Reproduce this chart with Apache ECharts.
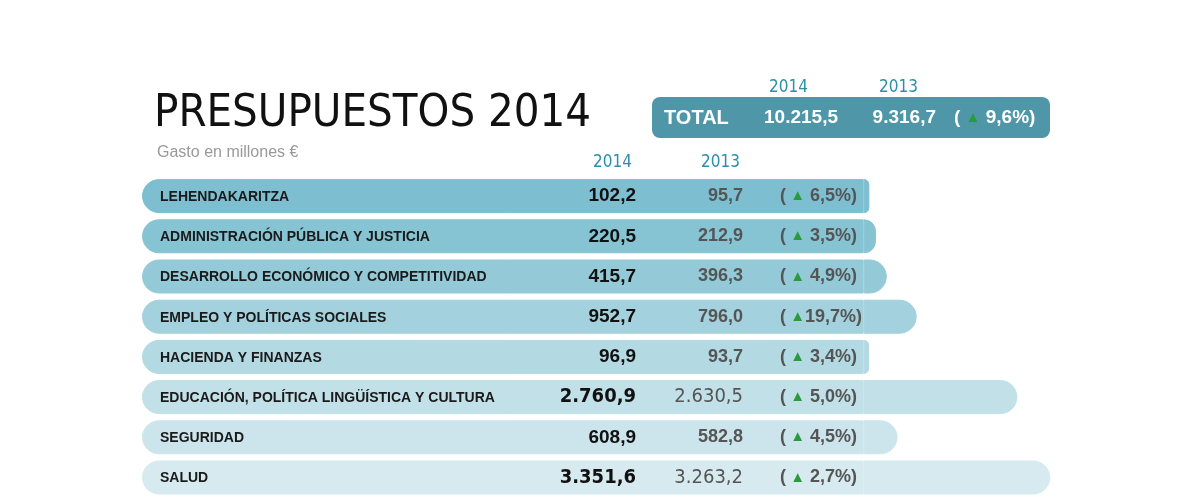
<!DOCTYPE html>
<html><head><meta charset="utf-8">
<script src="https://cdn.jsdelivr.net/npm/echarts@6/dist/echarts.min.js"></script>
<style>html,body{margin:0;background:#fff}#c{width:1200px;height:500px}</style>
</head><body><div id="c"></div>
<script>
var categories = ['LEHENDAKARITZA', 'ADMINISTRACIÓN PÚBLICA Y JUSTICIA', 'DESARROLLO ECONÓMICO Y COMPETITIVIDAD',
  'EMPLEO Y POLÍTICAS SOCIALES', 'HACIENDA Y FINANZAS', 'EDUCACIÓN, POLÍTICA LINGÜÍSTICA Y CULTURA', 'SEGURIDAD', 'SALUD'];
var values2014 = [102.2, 220.5, 415.7, 952.7, 96.9, 2760.9, 608.9, 3351.6];
var values2013 = [95.7, 212.9, 396.3, 796.0, 93.7, 2630.5, 582.8, 3263.2];
var changes = [6.5, 3.5, 4.9, 19.7, 3.4, 5.0, 4.5, 2.7];
var total2014 = 10215.5, total2013 = 9316.7, totalChange = 9.6;

var BASE = 12960;
var TOP = 176, ROW = 40.2;
var NARROW = '"Liberation Sans Narrow", "DejaVu Sans Condensed", Arial, sans-serif';
var rowColors = ['#7dbfd0', '#86c3d3', '#94cad8', '#a3d1dd', '#b3d9e3', '#c1e0e8', '#cce5ec', '#d6eaf0'];

function fmt(v) {
  var s = v.toFixed(1).split('.');
  return s[0].replace(/\B(?=(\d{3})+(?!\d))/g, '.') + ',' + s[1];
}

var chart = echarts.init(document.getElementById('c'));
var graphics = [
  {type: 'text', left: 154, top: 92, style: {text: 'PRESUPUESTOS 2014', font: '45px ' + NARROW, fill: '#111'}},
  {type: 'text', left: 157, top: 145, style: {text: 'Gasto en millones €', font: '16px Arial, sans-serif', fill: '#999'}},
  {type: 'text', x: 632, y: 163, style: {text: '2014', font: '17px ' + NARROW, fill: '#2a8fa8', align: 'right', verticalAlign: 'middle'}},
  {type: 'text', x: 740, y: 163, style: {text: '2013', font: '17px ' + NARROW, fill: '#2a8fa8', align: 'right', verticalAlign: 'middle'}},
  {type: 'rect', shape: {x: 652, y: 97, width: 398, height: 41, r: 8}, style: {fill: '#4f97a8'}},
  {type: 'text', x: 808, y: 88, style: {text: '2014', font: '17px ' + NARROW, fill: '#2a8fa8', align: 'right', verticalAlign: 'middle'}},
  {type: 'text', x: 918, y: 88, style: {text: '2013', font: '17px ' + NARROW, fill: '#2a8fa8', align: 'right', verticalAlign: 'middle'}},
  {type: 'text', x: 664, y: 118, style: {text: 'TOTAL', font: 'bold 20px Arial, sans-serif', fill: '#fff', verticalAlign: 'middle'}},
  {type: 'text', x: 838, y: 118, style: {text: fmt(total2014), font: 'bold 19px Arial, sans-serif', fill: '#fff', align: 'right', verticalAlign: 'middle'}},
  {type: 'text', x: 936, y: 118, style: {text: fmt(total2013), font: 'bold 19px Arial, sans-serif', fill: '#fff', align: 'right', verticalAlign: 'middle'}},
  {type: 'text', x: 954, y: 118, style: {rich: {t: {fill: '#2a9a3a', fontSize: 15}, n: {fill: '#fff', fontSize: 19, fontWeight: 'bold'}},
    text: '{n|( }{t|▲}{n| ' + fmt(totalChange) + '%)}', verticalAlign: 'middle'}}
];
categories.forEach(function (c, i) {
  var y = TOP + (i + 0.5) * ROW;
  var big = i == 5 || i == 7;
  graphics.push({type: 'text', x: 636, y: y, z: 10, style: {text: fmt(values2014[i]), font: 'bold ' + (big ? '20px ' + NARROW : '19px Arial, sans-serif'), fill: '#111', align: 'right', verticalAlign: 'middle'}});
  graphics.push({type: 'text', x: 743, y: y, z: 10, style: {text: fmt(values2013[i]), font: (big ? '20px ' + NARROW : 'bold 18px Arial, sans-serif'), fill: '#555', align: 'right', verticalAlign: 'middle'}});
  var p = changes[i] >= 10 ? fmt(changes[i]) : ' ' + fmt(changes[i]);
  graphics.push({type: 'text', x: 780, y: y, z: 10, style: {rich: {t: {fill: '#2a9a3a', fontSize: 15}, n: {fill: '#555', fontSize: 18, fontWeight: 'bold'}},
    text: '{n|(}{t| ▲}{n|' + p + '%)}', verticalAlign: 'middle'}});
});

chart.setOption({
  animation: false,
  grid: {left: 142, right: 0, top: TOP, height: ROW * categories.length},
  xAxis: {type: 'value', min: 0, max: 19000, show: false},
  yAxis: {type: 'category', data: categories, inverse: true, show: false},
  series: [
    {type: 'bar', stack: 'a', barWidth: 34, silent: true,
      data: categories.map(function (c, i) { return {value: BASE, itemStyle: {color: rowColors[i], borderColor: rowColors[i], borderWidth: 1, borderRadius: [17, 0, 0, 17]}}; }),
      label: {show: true, position: 'insideLeft', offset: [13, 1], formatter: '{b}',
        fontFamily: 'Arial, sans-serif', fontWeight: 'bold', fontSize: 14, color: '#1a1a1a'}},
    {type: 'bar', stack: 'a', barWidth: 34, silent: true,
      data: values2014.map(function (v, i) { return {value: v, itemStyle: {color: rowColors[i], borderColor: rowColors[i], borderWidth: 1, borderRadius: [0, 17, 17, 0]}}; })}
  ],
  graphic: graphics
});
</script></body></html>
